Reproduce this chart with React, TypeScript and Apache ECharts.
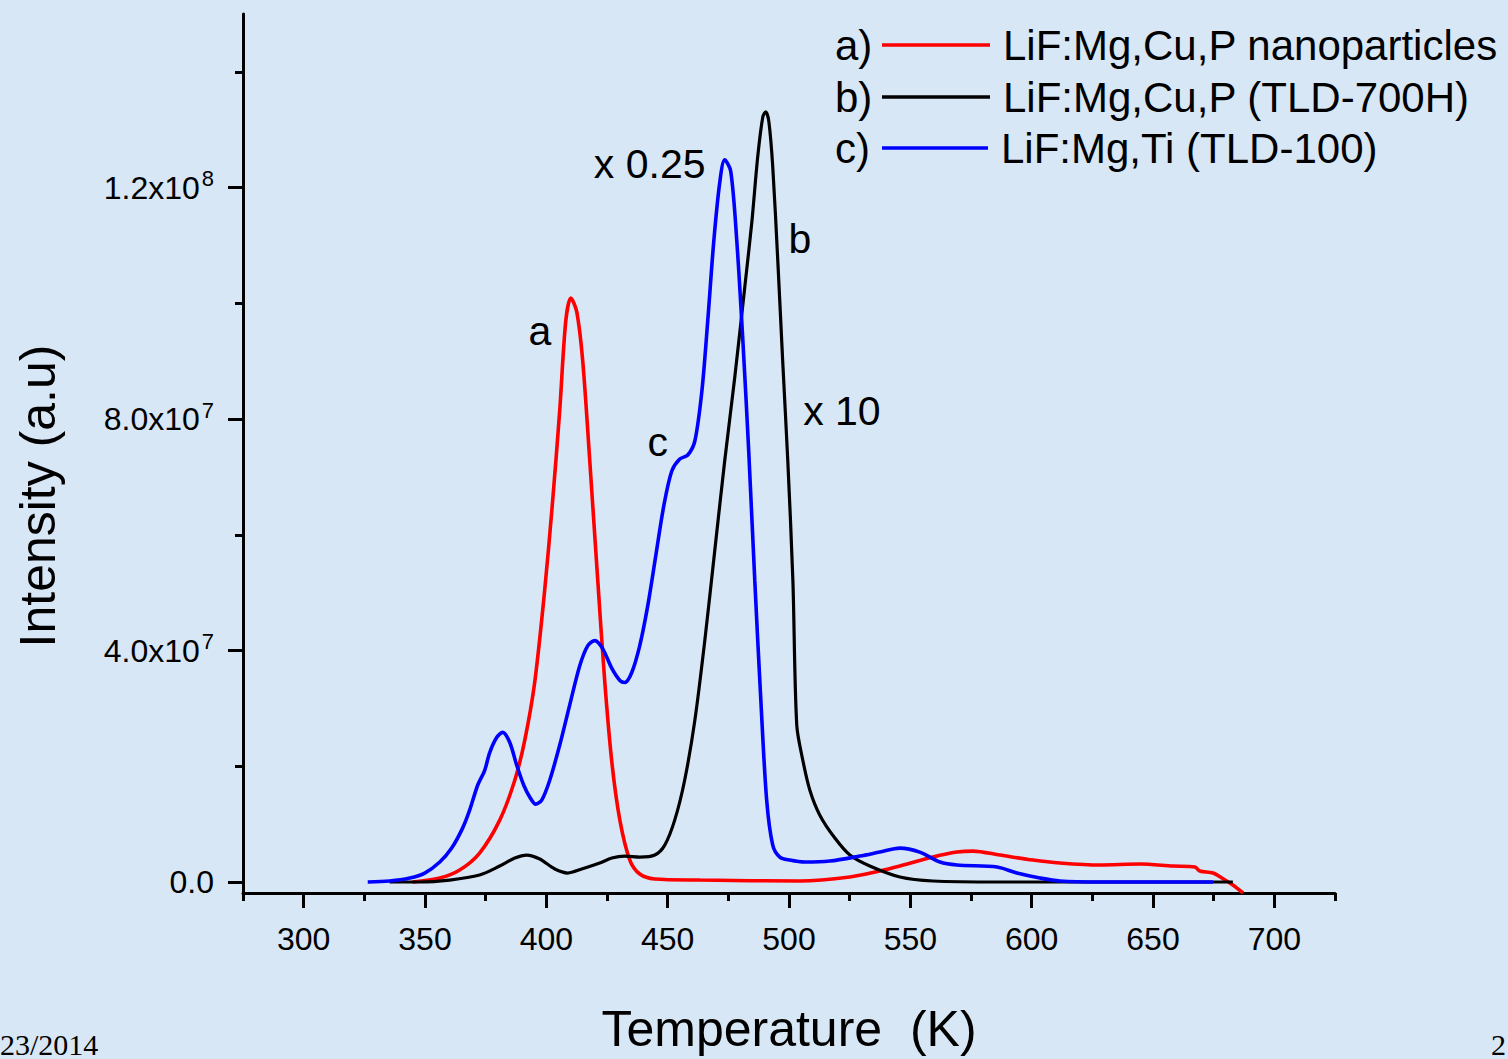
import { useEffect, useRef } from 'react';
import * as echarts from 'echarts';

// Glow curves: [temperature (K), intensity (a.u.)]
const nanoparticlesCurve: [number, number][] = [
  [344.9, 0], [356.1, 0.069e7], [364.3, 0.207e7], [372.5, 0.5e7], [380.8, 1.069e7],
  [387.0, 1.759e7], [391.1, 2.448e7], [395.2, 3.448e7], [399.3, 5.034e7], [402.6, 6.586e7],
  [405.5, 8.138e7], [408.0, 9.69e7], [410.1, 10.09e7], [412.5, 9.86e7], [415.0, 9.0e7],
  [417.9, 7.276e7], [421.2, 5.207e7], [424.1, 3.448e7], [427.0, 2.069e7], [430.3, 1.069e7],
  [434.4, 0.379e7], [438.5, 0.138e7], [444.7, 0.052e7], [463.2, 0.034e7], [504.5, 0.017e7],
  [525.1, 0.086e7], [537.4, 0.19e7], [545.7, 0.276e7], [559.3, 0.431e7], [569.2, 0.517e7],
  [575.8, 0.534e7], [586.9, 0.466e7], [600.5, 0.379e7], [611.6, 0.328e7], [628.1, 0.293e7],
  [644.6, 0.31e7], [658.2, 0.276e7], [667.3, 0.259e7], [669.3, 0.19e7], [674.7, 0.155e7],
  [678.4, 0.069e7], [682.9, -0.052e7], [687.1, -0.19e7],
];

const tld700hCurve: [number, number][] = [
  [335.4, 0], [347.8, 0], [360.2, 0.034e7], [372.5, 0.121e7], [380.8, 0.276e7],
  [387.0, 0.414e7], [391.9, 0.466e7], [397.3, 0.397e7], [403.5, 0.224e7], [408.8, 0.155e7],
  [414.6, 0.224e7], [422.0, 0.328e7], [427.0, 0.414e7], [432.3, 0.448e7], [438.5, 0.431e7],
  [444.7, 0.466e7], [448.8, 0.638e7], [452.9, 1.069e7], [457.0, 1.759e7], [461.2, 2.793e7],
  [465.3, 4.172e7], [469.4, 5.724e7], [473.5, 7.276e7], [477.7, 8.741e7], [481.8, 10.29e7],
  [484.7, 11.41e7], [487.1, 12.53e7], [489.2, 13.22e7], [490.4, 13.31e7], [491.7, 13.14e7],
  [493.3, 12.36e7], [495.4, 10.72e7], [497.4, 9.0e7], [499.5, 7.28e7], [501.6, 5.21e7],
  [503.2, 2.71e7], [505.7, 2.103e7], [508.6, 1.586e7], [512.7, 1.155e7], [518.9, 0.759e7],
  [525.1, 0.466e7], [533.3, 0.276e7], [545.7, 0.086e7], [559.3, 0.017e7], [586.9, 0],
  [682.9, 0],
];

const tld100Curve: [number, number][] = [
  [326.4, 0], [335.4, 0.017e7], [343.7, 0.069e7], [349.9, 0.155e7], [356.1, 0.345e7],
  [361.0, 0.586e7], [365.5, 0.931e7], [368.4, 1.241e7], [371.7, 1.672e7], [374.6, 1.931e7],
  [376.7, 2.241e7], [379.6, 2.5e7], [382.0, 2.586e7], [384.9, 2.414e7], [387.8, 2.017e7],
  [390.7, 1.672e7], [393.2, 1.466e7], [395.6, 1.345e7], [398.1, 1.414e7], [401.4, 1.759e7],
  [405.5, 2.362e7], [409.6, 3.052e7], [413.8, 3.741e7], [417.1, 4.086e7], [420.0, 4.172e7],
  [423.2, 4.034e7], [427.0, 3.69e7], [430.3, 3.483e7], [432.3, 3.448e7], [435.2, 3.621e7],
  [438.5, 4.086e7], [441.8, 4.776e7], [445.1, 5.638e7], [448.4, 6.5e7], [451.7, 7.103e7],
  [455.0, 7.31e7], [458.3, 7.379e7], [461.2, 7.621e7], [464.1, 8.483e7], [466.5, 9.69e7],
  [469.0, 11.07e7], [471.5, 12.1e7], [473.5, 12.48e7], [476.0, 12.28e7], [478.5, 11.07e7],
  [481.0, 9.345e7], [483.4, 7.448e7], [485.9, 5.207e7], [488.4, 3.138e7], [490.8, 1.414e7],
  [493.3, 0.638e7], [496.2, 0.431e7], [500.3, 0.379e7], [506.5, 0.345e7], [516.8, 0.362e7],
  [529.2, 0.448e7], [537.4, 0.517e7], [545.7, 0.586e7], [553.9, 0.517e7], [562.2, 0.345e7],
  [569.2, 0.293e7], [585.7, 0.259e7], [593.9, 0.155e7], [603.4, 0.069e7], [611.6, 0.017e7],
  [628.1, 0], [674.7, 0],
];

const seriesNames = ['LiF:Mg,Cu,P nanoparticles', 'LiF:Mg,Cu,P (TLD-700H)', 'LiF:Mg,Ti (TLD-100)'];
const seriesTags = ['a)', 'b)', 'c)'];
const seriesColors = ['#ff0000', '#000000', '#0000ff'];

// Axis ticks
const xMajorTicks = [300, 350, 400, 450, 500, 550, 600, 650, 700];
const xMinorTicks = [275, 325, 375, 425, 475, 525, 575, 625, 675, 725];
const yMajorTicks = [0, 4e7, 8e7, 1.2e8];
const yMinorTicks = [2e7, 6e7, 1e8, 1.4e8];
const yTickMantissa = ['0.0', '4.0x10', '8.0x10', '1.2x10'];
const yTickExponent = ['', '7', '7', '8'];

// Curve annotations placed in data space
const annotationText = ['a', 'b', 'c', 'x 0.25', 'x 10'];
const annotationT = [397.3, 504.5, 445.9, 442.6, 521.8];
const annotationI = [9.52e7, 11.12e7, 7.6e7, 12.4e7, 8.14e7];

const SANS = '"Liberation Sans", Arial, Helvetica, sans-serif';
const SERIF = '"Liberation Serif", "Times New Roman", serif';
const BG = '#d8e7f6';

export default function App() {
  const ref = useRef<HTMLDivElement>(null);

  useEffect(() => {
    const chart = echarts.init(ref.current!, null, { renderer: 'svg' });
    const curves = [nanoparticlesCurve, tld700hCurve, tld100Curve];

    const lineSeries = curves.map((data, i) => ({
      name: seriesNames[i],
      type: 'line',
      data,
      xAxisIndex: 0,
      yAxisIndex: 0,
      showSymbol: false,
      symbol: 'none',
      smooth: 0.3,
      lineStyle: { color: seriesColors[i], width: i === 1 ? 3.2 : 3.6 },
      z: 3,
    }));

    const annotationSeries = {
      name: 'annotations',
      type: 'scatter',
      xAxisIndex: 0,
      yAxisIndex: 0,
      symbolSize: 0,
      itemStyle: { opacity: 1 },
      data: annotationText.map((t, i) => ({ value: [annotationT[i], annotationI[i]], name: t })),
      label: {
        show: true,
        position: 'inside',
        formatter: (p: any) => p.name,
        fontFamily: SANS,
        fontSize: 41,
        color: '#000',
        opacity: 1,
        textBorderWidth: 0,
      },
      silent: true,
      z: 4,
    };

    // Legend drawn as tag + line sample + label per row
    const legendRows = [
      { cy: 45, x1: 882, x2: 990, tx: 1003 },
      { cy: 97, x1: 882, x2: 990, tx: 1003 },
      { cy: 148, x1: 882, x2: 988, tx: 1001 },
    ];
    const legendGraphic = legendRows.flatMap((r, i) => [
      {
        type: 'text',
        x: 835,
        y: r.cy,
        style: { text: seriesTags[i], fontFamily: SANS, fontSize: 42, fill: '#000', verticalAlign: 'middle' },
      },
      {
        type: 'line',
        shape: { x1: r.x1, y1: r.cy, x2: r.x2, y2: r.cy },
        style: { stroke: seriesColors[i], lineWidth: 3.6 },
      },
      {
        type: 'text',
        x: r.tx,
        y: r.cy,
        style: { text: seriesNames[i], fontFamily: SANS, fontSize: 42, fill: '#000', verticalAlign: 'middle' },
      },
    ]);

    const axisLineStyle = { color: '#000', width: 3 };

    chart.setOption({
      animation: false,
      backgroundColor: BG,
      grid: { left: 243, right: 173, top: 14, bottom: 166, outerBoundsMode: 'none' },
      xAxis: [
        {
          type: 'value',
          min: 275,
          max: 725,
          position: 'bottom',
          axisLine: { show: true, onZero: false, lineStyle: axisLineStyle },
          axisTick: { show: true, length: 15, lineStyle: { color: '#000', width: 3 }, customValues: xMajorTicks },
          axisLabel: {
            show: true,
            customValues: xMajorTicks,
            margin: 30,
            fontFamily: SANS,
            fontSize: 32,
            color: '#000',
          },
          splitLine: { show: false },
          name: 'Temperature  (K)',
          nameLocation: 'middle',
          nameGap: 111,
          nameTextStyle: { fontFamily: SANS, fontSize: 50, color: '#000' },
        },
        {
          type: 'value',
          min: 275,
          max: 725,
          position: 'bottom',
          axisLine: { show: false, onZero: false },
          axisTick: { show: true, length: 8, lineStyle: { color: '#000', width: 3 }, customValues: xMinorTicks },
          axisLabel: { show: false },
          splitLine: { show: false },
        },
      ],
      yAxis: [
        {
          type: 'value',
          min: -1.9e6,
          max: 1.5e8,
          position: 'left',
          axisLine: { show: true, onZero: false, lineStyle: axisLineStyle },
          axisTick: { show: true, length: 15, lineStyle: { color: '#000', width: 3 }, customValues: yMajorTicks },
          axisLabel: {
            show: true,
            customValues: yMajorTicks,
            margin: 29,
            formatter: (v: number) => {
              const i = yMajorTicks.findIndex((t) => Math.abs(t - v) < 1);
              if (i < 0) return '';
              return yTickExponent[i]
                ? `{m|${yTickMantissa[i]}}{s|${yTickExponent[i]}}`
                : `{m|${yTickMantissa[i]}}`;
            },
            rich: {
              m: { fontFamily: SANS, fontSize: 32, color: '#000', lineHeight: 40 },
              s: { fontFamily: SANS, fontSize: 22, color: '#000', lineHeight: 22, verticalAlign: 'top', padding: [0, 0, 0, 2] },
            },
          },
          splitLine: { show: false },
        },
        {
          type: 'value',
          min: -1.9e6,
          max: 1.5e8,
          position: 'left',
          axisLine: { show: false, onZero: false },
          axisTick: { show: true, length: 8, lineStyle: { color: '#000', width: 3 }, customValues: yMinorTicks },
          axisLabel: { show: false },
          splitLine: { show: false },
        },
      ],
      series: [...lineSeries, annotationSeries],
      graphic: [
        {
          type: 'text',
          x: 38,
          y: 496,
          rotation: Math.PI / 2,
          style: {
            text: 'Intensity (a.u)',
            fontFamily: SANS,
            fontSize: 50,
            fill: '#000',
            align: 'center',
            verticalAlign: 'middle',
          },
        },
        ...legendGraphic,
        {
          type: 'text',
          x: 0,
          y: 1029,
          style: { text: '23/2014', fontFamily: SERIF, fontSize: 30, fill: '#000', verticalAlign: 'top' },
        },
        {
          type: 'text',
          x: 1491,
          y: 1029,
          style: { text: '2', fontFamily: SERIF, fontSize: 30, fill: '#000', verticalAlign: 'top' },
        },
      ],
    });

    return () => chart.dispose();
  }, []);

  return (
    <div
      ref={ref}
      style={{ position: 'fixed', left: 0, top: 0, width: 1508, height: 1059, background: BG }}
    />
  );
}
